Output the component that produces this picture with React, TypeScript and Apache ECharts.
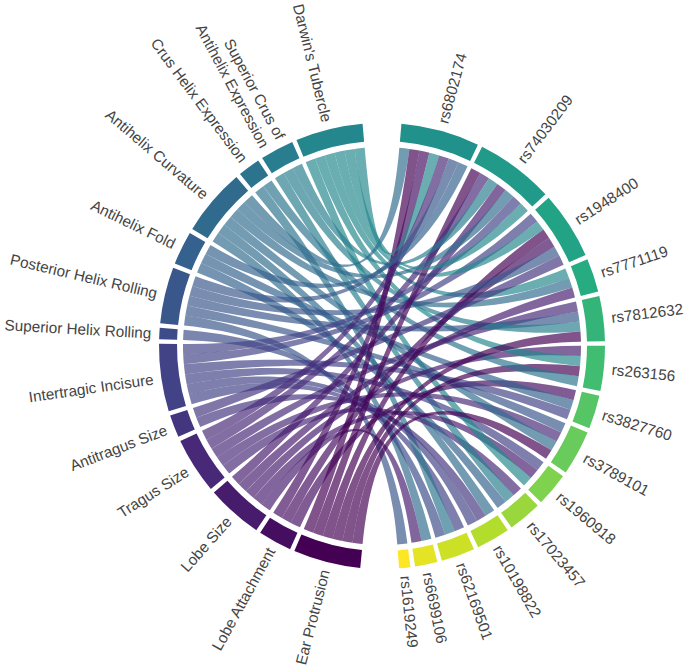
import React, { useEffect, useRef } from 'react';
import * as echarts from 'echarts';

// SNPs, clockwise from the top gap down to the bottom gap
const snps = [
  'rs6802174', 'rs74030209', 'rs1948400', 'rs7771119', 'rs7812632', 'rs263156', 'rs3827760',
  'rs3789101', 'rs1960918', 'rs17023457', 'rs10198822', 'rs62169501', 'rs6699106', 'rs1619249',
];

// Ear traits, clockwise from the bottom gap up to the top gap
const traits = [
  'Ear Protrusion', 'Lobe Attachment', 'Lobe Size', 'Tragus Size', 'Antitragus Size',
  'Intertragic Incisure', 'Superior Helix Rolling', 'Posterior Helix Rolling', 'Antihelix Fold',
  'Antihelix Curvature', 'Crus Helix Expression', 'Superior Crus of Antihelix Expression',
  "Darwin's Tubercle",
];

const traitLabels: Record<string, string> = {
  'Superior Crus of Antihelix Expression': 'Superior Crus of\nAntihelix Expression',
};

// traits associated with each SNP (same order as snps), listed clockwise at the SNP arc
const snpTraits: string[][] = [
  ['Antihelix Curvature', 'Ear Protrusion', 'Lobe Attachment', "Darwin's Tubercle", 'Tragus Size', 'Posterior Helix Rolling', 'Antihelix Fold'],
  ['Ear Protrusion', 'Tragus Size', 'Superior Crus of Antihelix Expression', 'Lobe Size', 'Antihelix Curvature', 'Intertragic Incisure', "Darwin's Tubercle"],
  ['Intertragic Incisure', "Darwin's Tubercle", 'Ear Protrusion', 'Lobe Attachment', 'Posterior Helix Rolling', 'Antitragus Size'],
  ["Darwin's Tubercle", 'Antihelix Curvature', 'Lobe Size'],
  ['Tragus Size', 'Posterior Helix Rolling', 'Superior Crus of Antihelix Expression', 'Ear Protrusion'],
  ['Lobe Size', "Darwin's Tubercle", 'Ear Protrusion', 'Crus Helix Expression'],
  ['Lobe Attachment', 'Antihelix Fold', 'Intertragic Incisure'],
  ['Posterior Helix Rolling', 'Tragus Size', 'Antihelix Curvature', 'Ear Protrusion'],
  ['Intertragic Incisure', 'Lobe Size', "Darwin's Tubercle"],
  ['Tragus Size', 'Superior Crus of Antihelix Expression', 'Antihelix Fold'],
  ['Antihelix Curvature', 'Antitragus Size', 'Intertragic Incisure'],
  ['Intertragic Incisure', 'Crus Helix Expression', 'Superior Helix Rolling'],
  ['Antihelix Curvature', 'Lobe Size'],
  ['Posterior Helix Rolling'],
];

// every association has the same weight
const linkWeight = 1;
// weight of the empty spacer nodes that open the top and bottom gaps
const gapWeight = 2.6;

const VIRIDIS = ['#440154', '#482475', '#414487', '#355f8d', '#2a788e', '#21918c', '#22a884', '#44bf70', '#7ad151', '#bddf26', '#fde725'];
function viridis(t: number): string {
  const x = Math.max(0, Math.min(1, t)) * (VIRIDIS.length - 1);
  const i = Math.min(VIRIDIS.length - 2, Math.floor(x));
  const f = x - i;
  const a = VIRIDIS[i], b = VIRIDIS[i + 1];
  const c = [1, 3, 5].map((k) => {
    const va = parseInt(a.slice(k, k + 2), 16);
    const vb = parseInt(b.slice(k, k + 2), 16);
    return Math.round(va + (vb - va) * f);
  });
  return `rgb(${c[0]},${c[1]},${c[2]})`;
}

export default function App() {
  const ref = useRef<HTMLDivElement>(null);
  useEffect(() => {
    if (!ref.current) return;
    const chart = echarts.init(ref.current, undefined, { renderer: 'svg' });

    const padDeg = 1.2;
    const cx = 382;
    const cy = 346;

    // colour order: clockwise from Ear Protrusion to rs1619249
    const colourOrder = [...traits, ...snps];
    const colourOf: Record<string, string> = {};
    colourOrder.forEach((n, i) => {
      colourOf[n] = viridis(i / (colourOrder.length - 1));
    });

    const nodeNames = [...snps, '__gapBottom', ...traits, '__gapTop'];
    const weight: Record<string, number> = { __gapBottom: gapWeight, __gapTop: gapWeight };

    const links: { source: string; target: string; value: number }[] = [];
    for (let s = snps.length - 1; s >= 0; s--) {
      snpTraits[s].forEach((t) => {
        links.push({ source: t, target: snps[s], value: linkWeight });
        weight[t] = (weight[t] || 0) + linkWeight;
        weight[snps[s]] = (weight[snps[s]] || 0) + linkWeight;
      });
    }

    const total = nodeNames.reduce((acc, n) => acc + (weight[n] || 0), 0);
    const unit = (360 - nodeNames.length * padDeg) / total;
    const chordStart = 90 - (padDeg + (gapWeight * unit) / 2);
    const pieStart = chordStart + padDeg / 2;

    const isGap = (n: string) => n.startsWith('__gap');

    const chordNodes = nodeNames.map((n) =>
      isGap(n)
        ? { name: n, value: gapWeight, itemStyle: { color: 'rgba(0,0,0,0)', opacity: 0 }, label: { show: false } }
        : { name: n, itemStyle: { color: colourOf[n], opacity: 0 } }
    );

    const pieData = nodeNames.map((n) =>
      isGap(n)
        ? { name: '', value: (weight[n] || 0) + padDeg / unit, itemStyle: { color: 'rgba(0,0,0,0)' }, label: { show: false } }
        : { name: traitLabels[n] || n, value: (weight[n] || 0) + padDeg / unit, itemStyle: { color: colourOf[n] } }
    );

    chart.setOption({
      animation: false,
      series: [
        {
          type: 'chord',
          center: [cx, cy],
          radius: [199, 200],
          startAngle: chordStart,
          clockwise: true,
          padAngle: padDeg,
          minAngle: 0,
          silent: true,
          label: { show: false },
          lineStyle: { color: 'source', opacity: 0.68, borderColor: '#fff', borderWidth: 0.8 },
          data: chordNodes,
          links,
        },
        {
          type: 'pie',
          center: [cx, cy],
          radius: [205, 223],
          startAngle: pieStart,
          clockwise: true,
          padAngle: padDeg,
          avoidLabelOverlap: false,
          silent: true,
          itemStyle: { borderWidth: 0 },
          label: {
            show: true,
            position: 'outside',
            rotate: 'radial',
            distanceToLabelLine: 0,
            fontSize: 15.3,
            color: '#444',
            fontFamily: 'Liberation Sans, Arial, sans-serif',
            lineHeight: 18,
          },
          labelLine: { show: false, length: 8, length2: 0 },
          emphasis: { disabled: true },
          data: pieData,
        },
      ],
    });
    return () => chart.dispose();
  }, []);
  return (
    <div
      ref={ref}
      style={{ position: 'fixed', left: 0, top: 0, width: 694, height: 671, background: '#fff' }}
    />
  );
}
